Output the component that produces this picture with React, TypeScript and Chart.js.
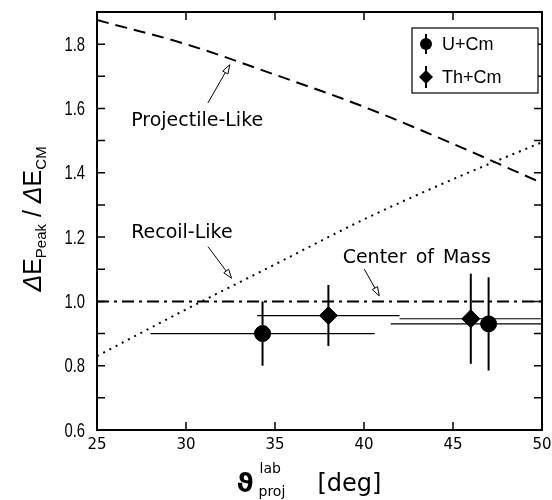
import React, { useEffect, useRef } from "react";
import { Chart, registerables } from "chart.js";

Chart.register(...registerables);

// Model curves (read at these laboratory angles)
const curveAngles = [25, 30, 35, 40, 45, 50];
const projectileLike = [1.875, 1.8, 1.705, 1.605, 1.49, 1.368];
const recoilLike = [0.83, 0.975, 1.115, 1.255, 1.38, 1.495];
const centerOfMassAngles = [25, 50];
const centerOfMass = [1.0, 1.0];

// U+Cm data
const uAngles = [34.3, 47.0];
const uRatio = [0.9, 0.93];
const uErr = [0.1, 0.145];
const uAngleMin = [28.0, 41.5];
const uAngleMax = [40.6, 51.0];

// Th+Cm data
const thAngles = [38.0, 46.0];
const thRatio = [0.956, 0.946];
const thErr = [0.095, 0.14];
const thAngleMin = [34.0, 42.0];
const thAngleMax = [42.0, 51.0];

// Axis
const xMin = 25;
const xMax = 50;
const xStep = 5;
const yMin = 0.6;
const yMax = 1.9;
const yStep = 0.1;

// Annotations
const annotationLabels = ["Projectile-Like", "Recoil-Like", "Center of Mass"];
const annotationX = [26.92, 26.92, 38.8];
const annotationY = [1.546, 1.198, 1.118];
const arrowFromX = [31.23, 31.24, 40.02];
const arrowFromY = [1.617, 1.17, 1.1];
const arrowToX = [32.46, 32.56, 40.86];
const arrowToY = [1.736, 1.072, 1.017];

const legendLabels = ["U+Cm", "Th+Cm"];

const SANS = "'DejaVu Sans', sans-serif";
const HELV = "'Liberation Sans', Arial, sans-serif";

function pts(xs: number[], ys: number[]) {
  return xs.map((x, i) => ({ x, y: ys[i] }));
}

function yLabel(v: number) {
  return Math.round(v * 10) % 2 === 0 ? v.toFixed(1) : "";
}

function drawArrow(ctx: CanvasRenderingContext2D, x0: number, y0: number, x1: number, y1: number) {
  const ang = Math.atan2(y1 - y0, x1 - x0);
  const len = 9;
  const half = 3;
  const bx = x1 - len * Math.cos(ang);
  const by = y1 - len * Math.sin(ang);
  ctx.beginPath();
  ctx.moveTo(x0, y0);
  ctx.lineTo(bx, by);
  ctx.stroke();
  ctx.beginPath();
  ctx.moveTo(x1, y1);
  ctx.lineTo(bx + half * Math.sin(ang), by - half * Math.cos(ang));
  ctx.lineTo(bx - half * Math.sin(ang), by + half * Math.cos(ang));
  ctx.closePath();
  ctx.fillStyle = "#fff";
  ctx.fill();
  ctx.stroke();
}

const customPlugin = {
  id: "customDraw",
  beforeDatasetsDraw(chart: any) {
    const { ctx, chartArea: a, scales } = chart;
    const x = scales.x;
    const y = scales.y;
    ctx.save();
    ctx.beginPath();
    ctx.rect(a.left, a.top, a.right - a.left, a.bottom - a.top);
    ctx.clip();
    ctx.strokeStyle = "#000";
    const bars = (xs: number[], ys: number[], e: number[], mn: number[], mx: number[]) => {
      for (let i = 0; i < xs.length; i++) {
        const px = x.getPixelForValue(xs[i]);
        ctx.lineWidth = 2;
        ctx.beginPath();
        ctx.moveTo(px, y.getPixelForValue(ys[i] - e[i]));
        ctx.lineTo(px, y.getPixelForValue(ys[i] + e[i]));
        ctx.stroke();
        const py = y.getPixelForValue(ys[i]);
        ctx.lineWidth = 1.2;
        ctx.beginPath();
        ctx.moveTo(x.getPixelForValue(mn[i]), py);
        ctx.lineTo(x.getPixelForValue(mx[i]), py);
        ctx.stroke();
      }
    };
    bars(uAngles, uRatio, uErr, uAngleMin, uAngleMax);
    bars(thAngles, thRatio, thErr, thAngleMin, thAngleMax);
    ctx.restore();
  },
  afterDraw(chart: any) {
    const { ctx, chartArea: a, scales } = chart;
    const x = scales.x;
    const y = scales.y;
    ctx.save();
    ctx.strokeStyle = "#000";
    ctx.fillStyle = "#000";

    // frame
    ctx.lineWidth = 2;
    ctx.strokeRect(a.left, a.top, a.right - a.left, a.bottom - a.top);

    // inward ticks
    ctx.lineWidth = 1.5;
    const tl = 8;
    x.ticks.forEach((t: any) => {
      const px = x.getPixelForValue(t.value);
      if (px <= a.left + 1 || px >= a.right - 1) return;
      ctx.beginPath();
      ctx.moveTo(px, a.bottom);
      ctx.lineTo(px, a.bottom - tl);
      ctx.moveTo(px, a.top);
      ctx.lineTo(px, a.top + tl);
      ctx.stroke();
    });
    y.ticks.forEach((t: any) => {
      const py = y.getPixelForValue(t.value);
      if (py <= a.top + 1 || py >= a.bottom - 1) return;
      ctx.beginPath();
      ctx.moveTo(a.left, py);
      ctx.lineTo(a.left + tl, py);
      ctx.moveTo(a.right, py);
      ctx.lineTo(a.right - tl, py);
      ctx.stroke();
    });

    // x tick labels
    ctx.font = `15px ${SANS}`;
    ctx.textAlign = "center";
    ctx.textBaseline = "middle";
    x.ticks.forEach((t: any) => {
      ctx.fillText(String(t.value), x.getPixelForValue(t.value), a.bottom + 15);
    });

    // y tick labels (condensed)
    ctx.font = `20px ${HELV}`;
    ctx.textAlign = "right";
    ctx.textBaseline = "middle";
    y.ticks.forEach((t: any) => {
      const lab = yLabel(t.value);
      if (!lab) return;
      const py = y.getPixelForValue(t.value);
      ctx.save();
      ctx.translate(a.left - 12, py + 1);
      ctx.scale(0.74, 1);
      ctx.fillText(lab, 0, 0);
      ctx.restore();
    });

    // annotations
    ctx.font = `19px ${SANS}`;
    ctx.textBaseline = "alphabetic";
    ctx.textAlign = "left";
    try {
      (ctx as any).wordSpacing = "3px";
    } catch (e) {}
    annotationLabels.forEach((lab, i) => {
      ctx.fillStyle = "#000";
      ctx.fillText(lab, x.getPixelForValue(annotationX[i]), y.getPixelForValue(annotationY[i]));
    });
    try {
      (ctx as any).wordSpacing = "0px";
    } catch (e) {}
    ctx.lineWidth = 1;
    for (let i = 0; i < arrowFromX.length; i++) {
      drawArrow(
        ctx,
        x.getPixelForValue(arrowFromX[i]),
        y.getPixelForValue(arrowFromY[i]),
        x.getPixelForValue(arrowToX[i]),
        y.getPixelForValue(arrowToY[i])
      );
    }

    // legend
    const lx = a.right - 130;
    const ly = a.top + 16;
    ctx.fillStyle = "#fff";
    ctx.fillRect(lx, ly, 126, 65);
    ctx.lineWidth = 1.2;
    ctx.strokeStyle = "#000";
    ctx.strokeRect(lx, ly, 126, 65);
    ctx.fillStyle = "#000";
    const mx = lx + 14;
    const cy1 = ly + 16;
    ctx.lineWidth = 2;
    ctx.beginPath();
    ctx.moveTo(mx, cy1 - 10);
    ctx.lineTo(mx, cy1 + 10);
    ctx.stroke();
    ctx.beginPath();
    ctx.arc(mx, cy1, 6, 0, Math.PI * 2);
    ctx.fill();
    const cy2 = ly + 49;
    ctx.beginPath();
    ctx.moveTo(mx, cy2 - 11);
    ctx.lineTo(mx, cy2 + 11);
    ctx.stroke();
    ctx.beginPath();
    ctx.moveTo(mx - 7, cy2);
    ctx.lineTo(mx, cy2 - 7);
    ctx.lineTo(mx + 7, cy2);
    ctx.lineTo(mx, cy2 + 7);
    ctx.closePath();
    ctx.fill();
    ctx.font = `18px ${HELV}`;
    ctx.textAlign = "left";
    ctx.textBaseline = "middle";
    ctx.fillText(legendLabels[0], lx + 30, cy1 + 1);
    ctx.fillText(legendLabels[1], lx + 30, cy2 + 1);

    // y title
    ctx.save();
    const cyT = (a.top + a.bottom) / 2 - 2;
    ctx.translate(41, cyT);
    ctx.rotate(-Math.PI / 2);
    ctx.textBaseline = "alphabetic";
    ctx.textAlign = "left";
    const big = 25;
    const small = 15;
    const segs = [
      { t: "\u0394", f: `italic ${big}px ${HELV}`, dy: 0 },
      { t: "E", f: `${big}px ${HELV}`, dy: 0 },
      { t: "Peak", f: `${small}px ${HELV}`, dy: 5 },
      { t: " / ", f: `${big}px ${HELV}`, dy: 0 },
      { t: "\u0394", f: `italic ${big}px ${HELV}`, dy: 0 },
      { t: "E", f: `${big}px ${HELV}`, dy: 0 },
      { t: "CM", f: `${small}px ${HELV}`, dy: 5 },
    ];
    let total = 0;
    segs.forEach((s) => {
      ctx.font = s.f;
      total += ctx.measureText(s.t).width;
    });
    let cx = -total / 2;
    segs.forEach((s) => {
      ctx.font = s.f;
      ctx.fillText(s.t, cx, s.dy);
      cx += ctx.measureText(s.t).width;
    });
    ctx.restore();

    // x title
    const xc = (a.left + a.right) / 2;
    ctx.textBaseline = "alphabetic";
    ctx.textAlign = "left";
    ctx.font = `bold 26px ${SANS}`;
    ctx.fillText("\u03D1", xc - 83, 492);
    ctx.font = `14px ${SANS}`;
    ctx.fillText("lab", xc - 60, 473);
    ctx.fillText("proj", xc - 61, 496);
    ctx.font = `24px ${SANS}`;
    ctx.fillText("[deg]", xc - 2, 491);

    ctx.restore();
  },
};

export default function App() {
  const ref = useRef<HTMLCanvasElement | null>(null);
  useEffect(() => {
    if (!ref.current) return;
    const chart = new Chart(ref.current, {
      type: "scatter",
      data: {
        datasets: [
          {
            label: "Projectile-Like",
            data: pts(curveAngles, projectileLike),
            showLine: true,
            borderColor: "#000",
            borderWidth: 2,
            borderDash: [12, 7],
            pointRadius: 0,
            cubicInterpolationMode: "monotone",
          },
          {
            label: "Recoil-Like",
            data: pts(curveAngles, recoilLike),
            showLine: true,
            borderColor: "#000",
            borderWidth: 2,
            borderDash: [2, 5],
            pointRadius: 0,
            cubicInterpolationMode: "monotone",
          },
          {
            label: "Center of Mass",
            data: pts(centerOfMassAngles, centerOfMass),
            showLine: true,
            borderColor: "#000",
            borderWidth: 2,
            borderDash: [12, 5, 3, 5],
            pointRadius: 0,
          },
          {
            label: "U+Cm",
            data: pts(uAngles, uRatio),
            pointStyle: "circle",
            pointRadius: 8,
            backgroundColor: "#000",
            borderColor: "#000",
          },
          {
            label: "Th+Cm",
            data: pts(thAngles, thRatio),
            pointStyle: "rectRot",
            pointRadius: 9,
            backgroundColor: "#000",
            borderColor: "#000",
          },
        ] as any,
      },
      options: {
        animation: false,
        responsive: false,
        events: [],
        layout: { padding: { top: 12, right: 9, left: 0, bottom: 0 } },
        plugins: {
          legend: { display: false },
          tooltip: { enabled: false },
        },
        scales: {
          x: {
            type: "linear",
            min: xMin,
            max: xMax,
            grid: { display: false, drawTicks: false },
            border: { display: false },
            ticks: { stepSize: xStep, display: false },
            afterFit: (s: any) => {
              s.height = 70;
            },
          },
          y: {
            type: "linear",
            min: yMin,
            max: yMax,
            grid: { display: false, drawTicks: false },
            border: { display: false },
            ticks: { stepSize: yStep, display: false },
            afterFit: (s: any) => {
              s.width = 97;
            },
          },
        },
      } as any,
      plugins: [customPlugin],
    });
    return () => chart.destroy();
  }, []);
  return (
    <div style={{ position: "fixed", left: 0, top: 0, width: 552, height: 500, background: "#fff" }}>
      <canvas ref={ref} width={552} height={500} style={{ width: 552, height: 500 }} />
    </div>
  );
}
